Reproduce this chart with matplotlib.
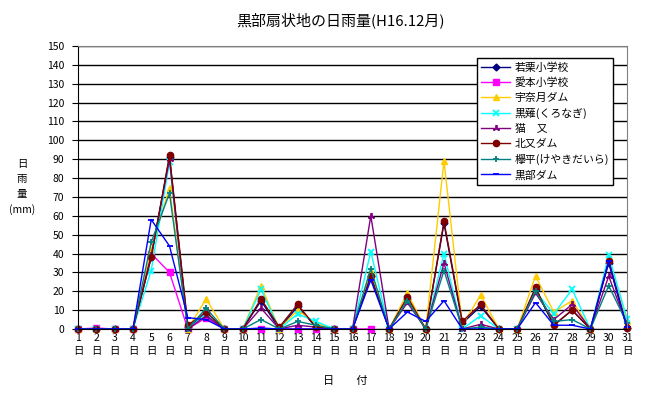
import numpy as np
import matplotlib
matplotlib.use("Agg")
import matplotlib.pyplot as plt

plt.rcParams['font.family'] = ['Noto Sans CJK JP', 'DejaVu Sans']

days = list(range(1, 32))
day_labels = [f"{d}\n日" for d in days]
nan = np.nan

wakaguri = [0,0,0,0,38,91,1,8,0,0,15,0,12,1,0,0,28,0,16,0,56,3,12,0,0,21,2,10,0,35,0.5]
aimoto = [0,0.5,0,0,40,30,0,6,0,0,0,0,0,0,0,0,0,nan,nan,nan,nan,nan,nan,nan,nan,nan,nan,nan,nan,nan,nan]
unazuki = [0,0,0,0,42,75,0,16,0,0,23,0,10,3,0,0,31,0,19,0,89,2,18,0,0,28,9,15,0,38,4]
kuronagi = [0,0,0,0,31,88.5,0,8,0,0,21,0,8,4,0,0,41,0,16,0,40,0,7,0,0,20,8,21,0,39,5.5]
nekomata = [0,0,0,0,39,90,0,7,0,0,11,0,2,1,0,0,60,0,14,0,35,0,2.5,0,0,19,5,13,0,28,2]
kitamata = [0,0,0,0,38,92,2,9,0,0,16,1,13,1,0,0,28,0,17,0,57,4,13,0,0,22,2,10,0,36,0.5]
keyakidaira = [0,0,0,0,46,72,0,11,0,0,5,0,4,2,0,0,32,0,15,0,31,0,1,0,0,20,4,5,0,23,3]
kurobe_dam = [0,0,0,0,58,44,6,5,0,0,0.5,0,0,0,0,0,26,0,9,4,15,0,0,0,0,14,2,2,0,36,1]

series = [
    ("若栗小学校", wakaguri, "#000080", "D", 3.5),
    ("愛本小学校", aimoto, "#FF00FF", "s", 4.5),
    ("宇奈月ダム", unazuki, "#FFCC00", "^", 5),
    ("黒薙(くろなぎ)", kuronagi, "#00FFFF", "x", 4),
    ("猫　又", nekomata, "#800080", (3, 2, 0), 5),
    ("北又ダム", kitamata, "#800000", "o", 4.5),
    ("欅平(けやきだいら)", keyakidaira, "#008080", "+", 5),
    ("黒部ダム", kurobe_dam, "#0000FF", "_", 5),
]

fig = plt.figure(figsize=(6.45, 3.97), dpi=100)
ax = fig.add_axes([78/645, 68/397, (627-78)/645, (329-46)/397])

for name, vals, col, mk, ms in series:
    ax.plot(days, vals, color=col, marker=mk, markersize=ms, linewidth=1,
            markeredgewidth=1.3 if mk in ("x", "+", "_") or isinstance(mk, tuple) else 1,
            label=name, clip_on=False)

ax.set_xlim(1, 31)
ax.set_ylim(0, 150)
ax.set_yticks(range(0, 151, 10))
ax.set_xticks(days)
ax.set_xticklabels(day_labels, fontsize=7.5, linespacing=1.3)
ax.tick_params(axis='x', length=0, pad=3)
ax.tick_params(axis='y', length=4, direction='out', labelsize=7.5, pad=6)
ax.yaxis.grid(True, color='black', linewidth=1)
ax.set_axisbelow(True)
for s in ('top', 'right'):
    ax.spines[s].set_color('#808080')
for s in ('left', 'bottom'):
    ax.spines[s].set_color('black')

fig.text(340/645, 1 - 20/397, "黒部扇状地の日雨量(H16.12月)", ha='center', va='center', fontsize=10.8)
fig.text(22/645, 1 - 187/397, "日\n雨\n量\n(mm)", ha='center', va='center', fontsize=7.5, linespacing=1.6)
fig.text(345/645, 1 - 381/397, "日　　付", ha='center', va='center', fontsize=8)

leg = ax.legend(loc='upper right', bbox_to_anchor=(0.985, 0.978), fontsize=7.8,
                frameon=True, fancybox=False, edgecolor='black', framealpha=1,
                handlelength=2.7, labelspacing=0.45, borderpad=0.4, handletextpad=0.4)
leg.get_frame().set_linewidth(1)

fig.savefig("out.png", dpi=100)
